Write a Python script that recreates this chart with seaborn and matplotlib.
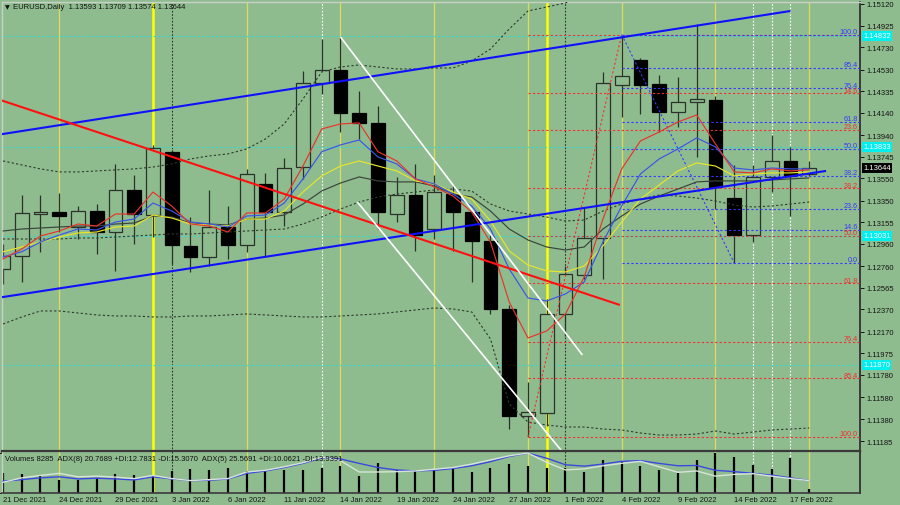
import numpy as np
import pandas as pd
import matplotlib
matplotlib.use("Agg")
import matplotlib.pyplot as plt
import matplotlib.transforms as mtransforms
import seaborn as sns

# EURUSD daily bars, 21 Dec 2021 - 18 Feb 2022
dates = pd.bdate_range("2021-12-21", "2022-02-18")

opens = [1.12734, 1.12851, 1.13230, 1.13247, 1.13112, 1.13256, 1.13067, 1.13445, 1.13220, 1.13787,
         1.12941, 1.12842, 1.13112, 1.12950, 1.13499, 1.13247, 1.13652, 1.14409, 1.14526, 1.14139,
         1.14048, 1.13229, 1.13400, 1.13094, 1.13409, 1.13247, 1.12986, 1.12373, 1.11410, 1.11437,
         1.12328, 1.12680, 1.13013, 1.14391, 1.14616, 1.14400, 1.14147, 1.14238, 1.14256, 1.13373,
         1.13040, 1.13562, 1.13706, 1.13593]
highs = [1.12959, 1.13400, 1.13400, 1.13418, 1.13301, 1.13319, 1.13679, 1.13580, 1.13850, 1.13805,
         1.13202, 1.13445, 1.13301, 1.13634, 1.13598, 1.13733, 1.14517, 1.14805, 1.14823, 1.14337,
         1.14202, 1.13562, 1.13679, 1.13580, 1.13490, 1.13256, 1.13049, 1.12409, 1.11716, 1.12463,
         1.12761, 1.13292, 1.14508, 1.14845, 1.14634, 1.14481, 1.14463, 1.14940, 1.14292, 1.13670,
         1.13670, 1.13940, 1.13832, 1.13709]
lows = [1.12599, 1.12617, 1.12887, 1.13067, 1.13004, 1.12869, 1.12716, 1.12959, 1.13022, 1.12779,
        1.12707, 1.12761, 1.12824, 1.12887, 1.12842, 1.13121, 1.13544, 1.14310, 1.13967, 1.13904,
        1.13094, 1.13157, 1.12896, 1.13004, 1.12896, 1.12617, 1.12328, 1.11293, 1.11221, 1.11320,
        1.12130, 1.12644, 1.12644, 1.14103, 1.14129, 1.13967, 1.14012, 1.13742, 1.13274, 1.12788,
        1.12977, 1.13427, 1.13211, 1.13574]
closes = [1.12851, 1.13238, 1.13245, 1.13211, 1.13256, 1.13067, 1.13445, 1.13229, 1.13823, 1.12950,
          1.12842, 1.13112, 1.12950, 1.13589, 1.13247, 1.13643, 1.14409, 1.14526, 1.14139, 1.14048,
          1.13247, 1.13400, 1.13040, 1.13427, 1.13247, 1.12986, 1.12373, 1.11410, 1.11446, 1.12328,
          1.12689, 1.13013, 1.14409, 1.14472, 1.14391, 1.14147, 1.14238, 1.14265, 1.13472, 1.13040,
          1.13562, 1.13706, 1.13571, 1.13644]
volumes = [40240, 38160, 35380, 26360, 26360, 29830, 36770, 35380, 33300, 43710,
           47180, 46480, 50650, 43710, 46480, 45100, 45790, 49260, 54120, 33300,
           59670, 45790, 45790, 45790, 48570, 41630, 49260, 57590, 52730, 50650,
           49260, 41630, 65910, 64520, 52730, 45790, 38850, 66600, 79784, 72850,
           56200, 48570, 69380, 8285]

# moving averages as drawn (red, blue, yellow, dark grey)
ma_red = [1.12824, 1.12914, 1.13031, 1.13076, 1.13139, 1.13121, 1.13229, 1.13229, 1.13427, 1.13301,
          1.13139, 1.13121, 1.13067, 1.13238, 1.13238, 1.13364, 1.13661, 1.13995, 1.14040, 1.14049,
          1.13790, 1.13707, 1.13545, 1.13473, 1.13391, 1.13247, 1.12977, 1.12437, 1.12113, 1.12176,
          1.12329, 1.12662, 1.13184, 1.13635, 1.13887, 1.13968, 1.14058, 1.14121, 1.13860, 1.13608,
          1.13599, 1.13635, 1.13617, 1.13626]
ma_blue = [1.12842, 1.12889, 1.12977, 1.13040, 1.13094, 1.13085, 1.13157, 1.13184, 1.13328, 1.13256,
           1.13157, 1.13139, 1.13112, 1.13211, 1.13220, 1.13328, 1.13545, 1.13790, 1.13851, 1.13896,
           1.13743, 1.13680, 1.13545, 1.13500, 1.13409, 1.13301, 1.13094, 1.12734, 1.12473, 1.12446,
           1.12509, 1.12617, 1.12977, 1.13301, 1.13590, 1.13725, 1.13815, 1.13914, 1.13833, 1.13643,
           1.13626, 1.13643, 1.13635, 1.13635]
ma_yellow = [1.12889, 1.12932, 1.12977, 1.13022, 1.13058, 1.13067, 1.13112, 1.13121, 1.13220, 1.13193,
             1.13139, 1.13130, 1.13121, 1.13184, 1.13184, 1.13256, 1.13427, 1.13572, 1.13661, 1.13707,
             1.13661, 1.13617, 1.13527, 1.13500, 1.13427, 1.13364, 1.13166, 1.12896, 1.12770, 1.12716,
             1.12707, 1.12761, 1.12941, 1.13157, 1.13364, 1.13490, 1.13617, 1.13689, 1.13661, 1.13572,
             1.13590, 1.13599, 1.13599, 1.13608]
ma_grey = [1.13076, 1.13094, 1.13103, 1.13112, 1.13121, 1.13121, 1.13139, 1.13148, 1.13211, 1.13202,
           1.13148, 1.13139, 1.13130, 1.13184, 1.13193, 1.13220, 1.13319, 1.13436, 1.13508, 1.13563,
           1.13527, 1.13518, 1.13518, 1.13482, 1.13409, 1.13382, 1.13256, 1.13094, 1.12995, 1.12932,
           1.12905, 1.12932, 1.13094, 1.13211, 1.13319, 1.13391, 1.13454, 1.13518, 1.13527, 1.13527,
           1.13527, 1.13536, 1.13545, 1.13554]

# dotted bands (upper runs off the top after bar 32)
band_up = [1.13707, 1.13671, 1.13635, 1.13608, 1.13608, 1.13617, 1.13626, 1.13635, 1.13652, 1.13680,
           1.13725, 1.13752, 1.13770, 1.13815, 1.13905, 1.14040, 1.14265, 1.14508, 1.14553, 1.14571,
           1.14553, 1.14535, 1.14535, 1.14544, 1.14544, 1.14607, 1.14715, 1.14895, 1.15057, 1.15093,
           1.15129, 1.15210, 1.15390] + [np.nan] * 11
band_mid = [1.13004, 1.13004, 1.13004, 1.13004, 1.13013, 1.13013, 1.13022, 1.13031, 1.13040, 1.13049,
            1.13049, 1.13058, 1.13067, 1.13076, 1.13085, 1.13094, 1.13139, 1.13202, 1.13274, 1.13337,
            1.13382, 1.13409, 1.13427, 1.13445, 1.13454, 1.13436, 1.13319, 1.13256, 1.13229, 1.13202,
            1.13166, 1.13175, 1.13256, 1.13319, 1.13364, 1.13400, 1.13391, 1.13373, 1.13346, 1.13310,
            1.13292, 1.13301, 1.13319, 1.13337]
band_low = [1.12239, 1.12302, 1.12356, 1.12356, 1.12338, 1.12320, 1.12311, 1.12311, 1.12302, 1.12302,
            1.12311, 1.12311, 1.12320, 1.12329, 1.12320, 1.12311, 1.12302, 1.12302, 1.12311, 1.12320,
            1.12329, 1.12347, 1.12365, 1.12383, 1.12374, 1.12347, 1.12104, 1.11518, 1.11356, 1.11329,
            1.11311, 1.11311, 1.11293, 1.11284, 1.11257, 1.11239, 1.11239, 1.11248, 1.11275, 1.11248,
            1.11266, 1.11284, 1.11293, 1.11302]

# ADX lines in the volume window
adx8 = [19.6, 22.5, 25.5, 27.3, 23.7, 24.9, 23.7, 21.9, 27.3, 23.7, 20.8, 21.3, 23.7, 33.2, 37.4,
        43.3, 50.4, 59.9, 58.1, 50.4, 43.3, 39.1, 37.4, 38.5, 41.5, 46.3, 53.4, 62.3, 68.2, 59.3,
        48.0, 45.7, 49.2, 54.0, 55.1, 50.4, 46.3, 46.8, 38.5, 36.2, 33.2, 30.2, 25.5, 20.77]
adx5 = [21.9, 31.4, 36.5, 40.9, 33.6, 35.0, 32.9, 29.9, 36.5, 29.9, 25.6, 27.7, 29.9, 43.8, 47.5,
        54.8, 63.5, 75.2, 67.9, 43.8, 43.8, 44.5, 46.0, 49.6, 53.3, 60.6, 69.4, 78.1, 84.0, 64.2,
        48.2, 50.4, 56.9, 62.1, 66.4, 54.8, 43.1, 46.0, 35.0, 38.7, 40.2, 35.0, 29.9, 25.57]

# drawn objects: (bar, price) endpoints
channel_upper = [(-0.1, 1.13947), (42.0, 1.15057)]
channel_lower = [(-0.1, 1.12479), (43.9, 1.13617)]
red_trend = [(-0.1, 1.14253), (32.9, 1.12410)]
white_upper = [(18.0, 1.14823), (30.9, 1.11960)]
white_lower = [(18.9, 1.13337), (29.8, 1.11095)]

fib_levels = [0.0, 14.6, 23.6, 38.2, 50.0, 61.8, 76.4, 85.4, 100.0]
fib_red = {"start": 28, "high": 1.14845, "low": 1.11221}   # levels counted down from high
fib_blue = {"start": 33, "high": 1.14845, "low": 1.12788}  # levels counted up from low

cyan_levels = [1.14832, 1.13833, 1.13031, 1.11870]
last_price = 1.13644
price_ticks = [1.15120, 1.14925, 1.14730, 1.14530, 1.14335, 1.14140, 1.13940, 1.13745, 1.13550,
               1.13350, 1.13155, 1.12960, 1.12760, 1.12565, 1.12370, 1.12170, 1.11975, 1.11780,
               1.11580, 1.11380, 1.11185]
white_dotted_bars = [17, 40, 41, 42]

bg = "#8fbc8f"
sns.set_theme(style="white")
plt.rcParams["font.family"] = ["Liberation Sans", "DejaVu Sans"]
plt.rcParams["axes.facecolor"] = bg

idx = np.arange(len(dates))
o = np.array(opens); h = np.array(highs); l = np.array(lows); c = np.array(closes)

fig = plt.figure(figsize=(9, 5.06), dpi=100)
fig.patch.set_facecolor(bg)
ax = fig.add_axes([2 / 900, 53 / 506, 858 / 900, 450 / 506])
axv = fig.add_axes([2 / 900, 12 / 506, 858 / 900, 42 / 506])
for a in (ax, axv):
    a.set_facecolor(bg)
    a.set_xlim(-0.053, 45.71)
ax.set_ylim(1.11086, 1.15138)
axv.set_ylim(-690, 83946)

# vertical separators: fridays, month end, month start, marks
fridays = [i for i, d in enumerate(dates) if d.weekday() == 4]
month_end = [i for i in range(len(dates) - 1) if dates[i].month != dates[i + 1].month]
month_start = [i + 1 for i in month_end]
for a in (ax, axv):
    for i in fridays:
        a.axvline(i, color="#dcdc5a", lw=0.9, zorder=1)
    for i in month_end:
        a.axvline(i, color="#ffff00", lw=1.8, zorder=1)
    for i in month_start:
        a.axvline(i, color="#2c342c", lw=0.8, ls=(0, (1.5, 1.5)), zorder=1)
    for i in white_dotted_bars:
        a.axvline(i, color="white", lw=0.8, ls=(0, (1.5, 1.5)), zorder=1)

# cyan levels across the chart
for p in cyan_levels:
    ax.axhline(p, color="#30d8d0", lw=0.8, ls=(0, (2, 2)), zorder=1)

# candles
up = c >= o
ax.vlines(idx, l, h, color="#2a322a", lw=0.9, zorder=2)
body_lo = np.minimum(o, c)
body_h = np.maximum(np.abs(c - o), 0.00003)
ax.bar(idx[up], body_h[up], bottom=body_lo[up], width=0.74, facecolor=bg,
       edgecolor="#2a322a", lw=0.9, zorder=2.5)
ax.bar(idx[~up], body_h[~up], bottom=body_lo[~up], width=0.74, facecolor="black",
       edgecolor="black", lw=0.9, zorder=2.5)

# bands and moving averages
for band in (band_up, band_mid, band_low):
    ax.plot(idx, band, color="#2e3a2e", lw=0.8, ls=(0, (2, 2)), zorder=3)
for vals, col in ((ma_grey, "#3a443a"), (ma_yellow, "#e6e62a"), (ma_blue, "#3a55e8"), (ma_red, "#e8342c")):
    sns.lineplot(x=idx, y=vals, ax=ax, color=col, lw=0.85, zorder=3.2)

# fibonacci grids
end_x = 45.71
for r in fib_levels:
    pr = fib_red["high"] - r / 100 * (fib_red["high"] - fib_red["low"])
    pb = fib_blue["low"] + r / 100 * (fib_blue["high"] - fib_blue["low"])
    ax.plot([fib_red["start"], end_x], [pr, pr], color="#f03030", lw=0.8, ls=(0, (2, 2)), zorder=3)
    ax.plot([fib_blue["start"], end_x], [pb, pb], color="#3838ff", lw=0.8, ls=(0, (2, 2)), zorder=3)
    if r > 0:
        ax.annotate(f"{r:.1f}", (45.6, pr), xytext=(0, 2.3), textcoords="offset points",
                    ha="right", va="center", fontsize=5.2, color="#f03030", zorder=6)
    ax.annotate(f"{r:.1f}", (45.6, pb), xytext=(0, 2.3), textcoords="offset points",
                ha="right", va="center", fontsize=5.2, color="#3838ff", zorder=6)
ax.plot([28, 33], [fib_red["low"], fib_red["high"]], color="#f03030", lw=0.8, ls=(0, (2, 2)), zorder=3)
ax.plot([33, 39], [fib_blue["high"], fib_blue["low"]], color="#3838ff", lw=0.8, ls=(0, (2, 2)), zorder=3)

# trend lines
for seg, col, lw in ((channel_upper, "#1010ff", 1.5), (channel_lower, "#1010ff", 1.5),
                     (red_trend, "#ff1010", 1.5), (white_upper, "white", 1.2),
                     (white_lower, "white", 1.2)):
    xs, ys = zip(*seg)
    ax.plot(xs, ys, color=col, lw=lw, zorder=4, solid_capstyle="butt")

# right price scale
ax.yaxis.tick_right()
ax.set_yticks(price_ticks)
ax.set_yticklabels([f"{p:.5f}" for p in price_ticks])
ax.set_xticks([])
ax.set_ylabel("")
ax.tick_params(axis="y", labelsize=5.5, colors="#151515", length=3, width=0.7, pad=2, direction="out")
trans = mtransforms.blended_transform_factory(ax.transAxes, ax.transData)
for p in cyan_levels:
    ax.text(1.0035, p, f"{p:.5f}", transform=trans, fontsize=5.5, color="white", va="center",
            ha="left", zorder=7, clip_on=False,
            bbox=dict(boxstyle="square,pad=0.18", fc="#00f0f0", ec="none"))
ax.text(1.0035, last_price, f"{last_price:.5f}", transform=trans, fontsize=5.5, color="white",
        va="center", ha="left", zorder=7, clip_on=False,
        bbox=dict(boxstyle="square,pad=0.18", fc="black", ec="none"))

# volumes
axv.vlines(idx, 0, volumes, color="black", lw=1.6, zorder=2)
axv.yaxis.tick_right()
axv.set_yticks([0, 79784])
axv.set_yticklabels(["0", "79784"])
axv.set_xticks(idx[::3])
axv.set_xticklabels([f"{d.day} {d:%b %Y}" for d in dates[::3]], ha="left")
axv.set_ylabel("")
axv.tick_params(axis="y", labelsize=5.5, colors="#151515", length=2.5, width=0.7, pad=2, direction="out")
axv.tick_params(axis="x", labelsize=5.5, colors="#151515", length=1.5, width=0.7, pad=0.5, direction="out")

ax8 = axv.twinx()
ax5 = axv.twinx()
ax8.set_ylim(-0.59, 71.75)
ax5.set_ylim(-0.73, 88.3)
sns.lineplot(x=idx, y=adx5, ax=ax5, color="#d8e4d8", lw=1.0)
sns.lineplot(x=idx, y=adx8, ax=ax8, color="#3c48e0", lw=1.0)
for a in (ax8, ax5):
    a.set_xlim(-0.053, 45.71)
    a.yaxis.set_visible(False)
    a.xaxis.set_visible(False)
    a.patch.set_visible(False)
    for s in a.spines.values():
        s.set_visible(False)

# frame
for a in (ax, axv):
    a.spines["right"].set_color("#3a3a3a")
    a.spines["right"].set_linewidth(1.4)
    a.spines["left"].set_color("#c8d0c8")
    a.spines["left"].set_linewidth(1.0)
ax.spines["top"].set_color("#c8d0c8")
ax.spines["top"].set_linewidth(1.0)
ax.spines["bottom"].set_color("#3a3a3a")
ax.spines["bottom"].set_linewidth(1.6)
axv.spines["top"].set_color("#3a3a3a")
axv.spines["top"].set_linewidth(1.6)
axv.spines["bottom"].set_color("#3a3a3a")
axv.spines["bottom"].set_linewidth(1.2)

fig.text(5 / 900, 1 - 7.5 / 506, "\u25bc", fontsize=4.5, color="#111111", va="center",
         family=["DejaVu Sans"])
fig.text(13 / 900, 1 - 7.5 / 506,
         f"EURUSD,Daily  {opens[-1]:.5f} {highs[-1]:.5f} {lows[-1]:.5f} {closes[-1]:.5f}",
         fontsize=5.5, color="#111111", va="center")
fig.text(5 / 900, 1 - 460 / 506,
         "Volumes 8285  ADX(8) 20.7689 +DI:12.7831 -DI:15.3070  ADX(5) 25.5691 +DI:10.0621 -DI:13.9391",
         fontsize=5.5, color="#111111", va="center")

fig.savefig("out.png", dpi=100, facecolor=bg)
